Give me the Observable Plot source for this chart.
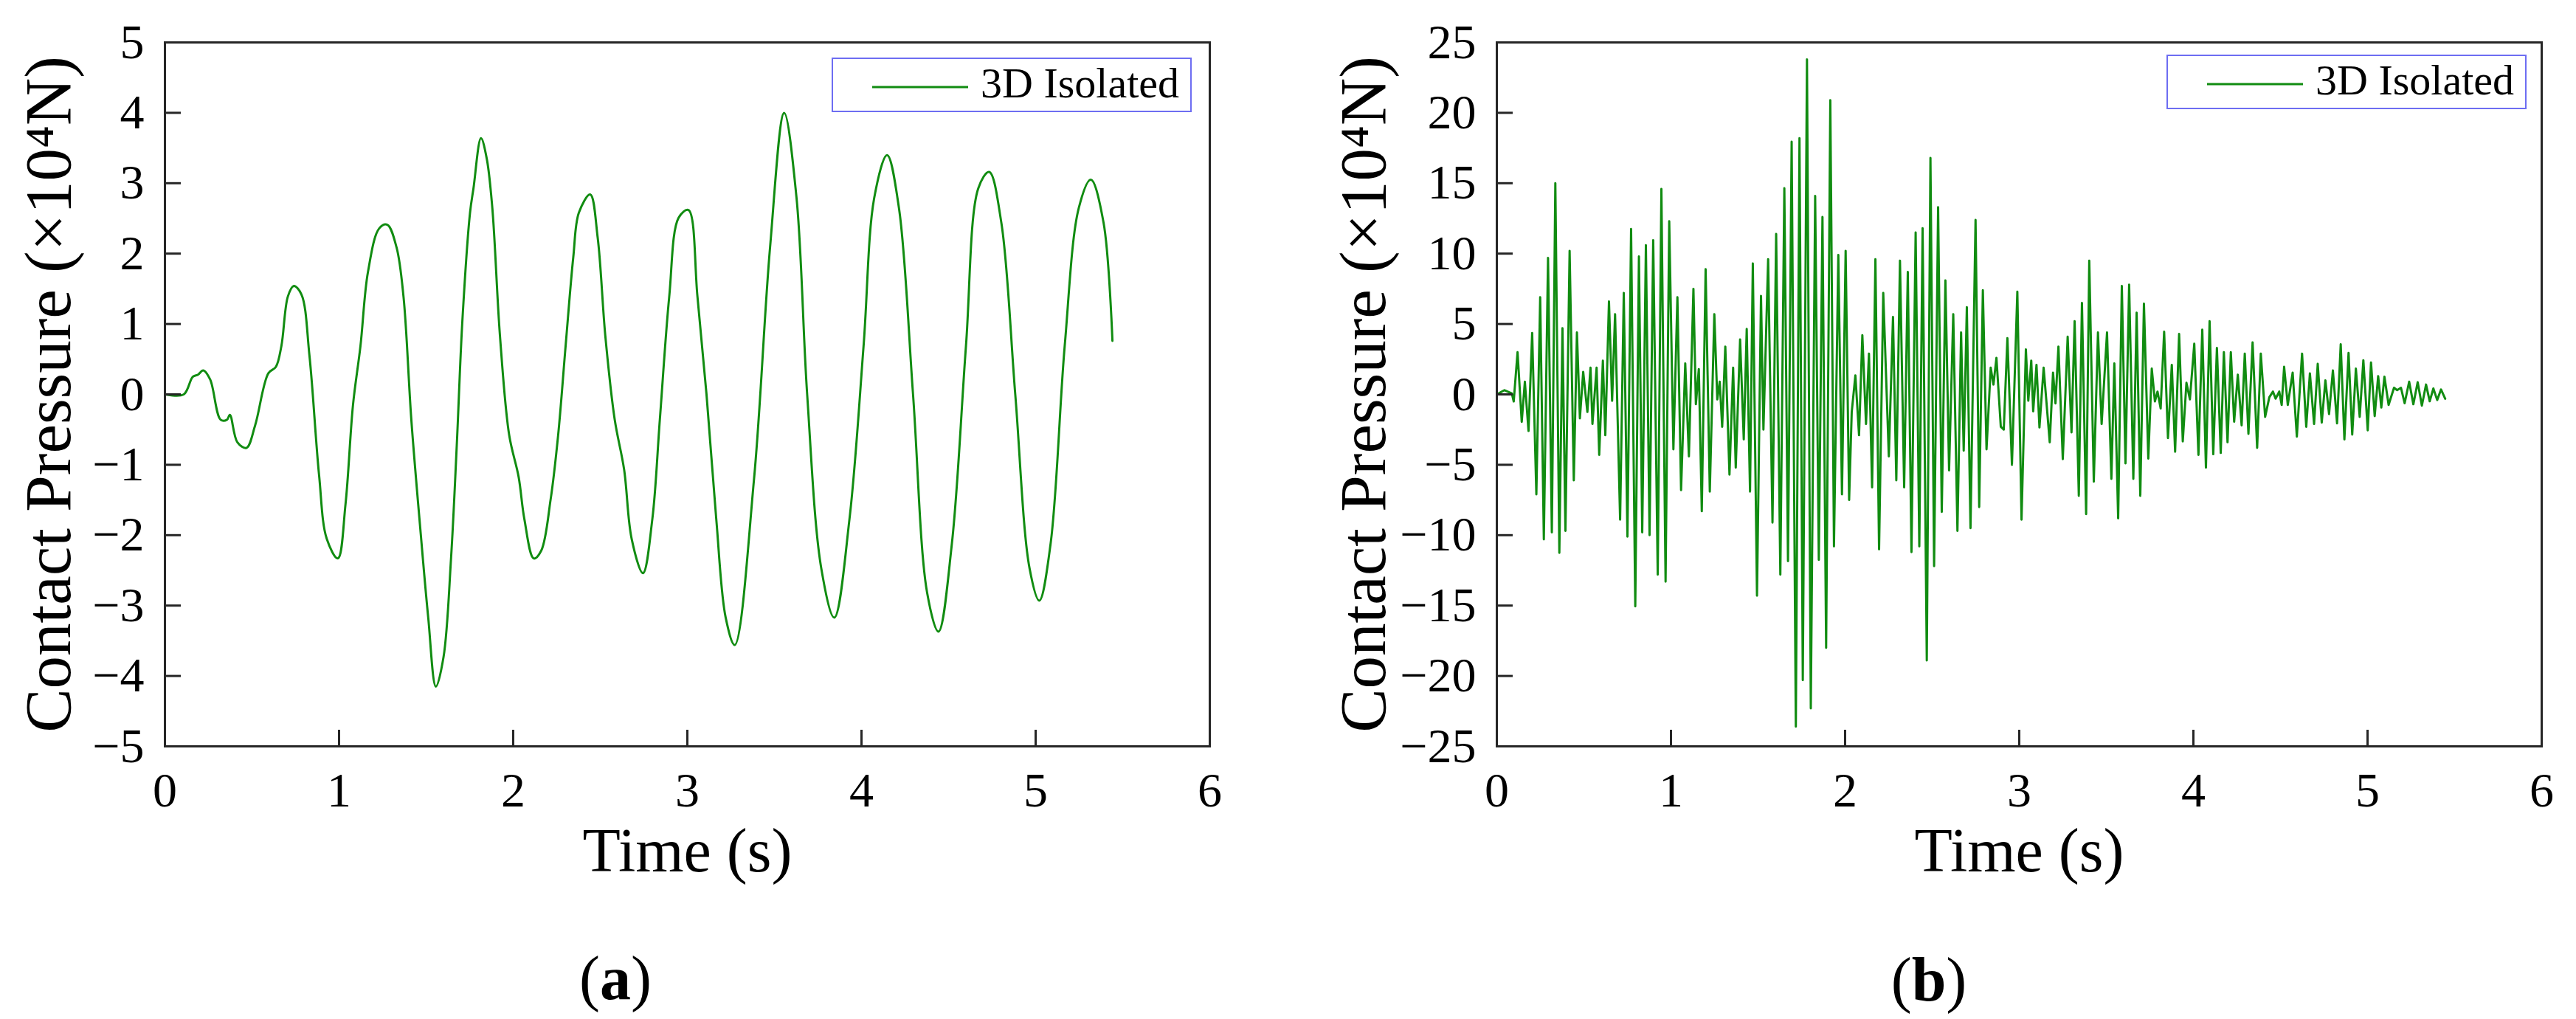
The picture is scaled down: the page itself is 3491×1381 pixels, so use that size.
<!DOCTYPE html>
<html>
<head>
<meta charset="utf-8">
<script src="https://cdn.jsdelivr.net/npm/d3@7"></script>
<script src="https://cdn.jsdelivr.net/npm/@observablehq/plot@0.6"></script>
<style>
html,body{margin:0;padding:0;background:#fff;}
#page{position:relative;width:3491px;height:1381px;overflow:hidden;background:#fff;font-family:"Liberation Serif","Times New Roman",serif;color:#000;}
.panel{position:absolute;top:0;width:1700px;height:1180px;}
.legend{position:absolute;box-sizing:border-box;width:488px;height:74px;border:2px solid #6d6df2;background:#fff;}
.legend svg{position:absolute;left:0;top:0;}
.legend span{position:absolute;left:200px;top:50%;transform:translateY(-54%);font-size:58px;white-space:nowrap;line-height:1;}
.caption{position:absolute;font-size:84px;line-height:1;transform:translate(-50%,-50%);white-space:nowrap;}
</style>
</head>
<body>
<div id="page">
  <div class="panel" id="pa" style="left:0px"></div>
  <div class="panel" id="pb" style="left:1805px"></div>
  <div class="caption" style="left:834px;top:1326px">(<b>a</b>)</div>
  <div class="caption" style="left:2614px;top:1328px">(<b>b</b>)</div>
</div>
<script>
// ---------- data ----------
const xTicks = [0, 1, 2, 3, 4, 5, 6];
const yTicksA = [-5, -4, -3, -2, -1, 0, 1, 2, 3, 4, 5];
const yTicksB = [-25, -20, -15, -10, -5, 0, 5, 10, 15, 20, 25];
const xLabel = "Time (s)";
const yLabel = "Contact Pressure (×10⁴N)";
const seriesName = "3D Isolated";

const timeA = [0,0.108,0.16,0.19,0.22,0.26,0.32,0.356,0.373,0.416,0.468,0.518,0.594,0.637,0.669,0.706,0.74,0.784,0.83,0.885,0.929,0.993,1.037,1.08,1.123,1.166,1.231,1.277,1.33,1.37,1.415,1.469,1.512,1.556,1.6,1.643,1.676,1.708,1.752,1.772,1.815,1.848,1.88,1.924,1.977,2.031,2.064,2.118,2.161,2.215,2.258,2.301,2.345,2.377,2.442,2.485,2.529,2.583,2.637,2.68,2.745,2.799,2.842,2.896,2.95,3.006,3.058,3.11,3.166,3.22,3.272,3.383,3.475,3.556,3.627,3.688,3.769,3.844,3.931,4.012,4.073,4.147,4.215,4.296,4.377,4.442,4.519,4.6,4.671,4.733,4.803,4.883,4.965,5.021,5.086,5.167,5.248,5.317,5.39,5.441];
const pressureA = [0,0,0.25,0.28,0.34,0.21,-0.36,-0.36,-0.29,-0.68,-0.76,-0.44,0.30,0.39,0.69,1.39,1.54,1.42,0.55,-1.14,-2.05,-2.33,-1.56,-0.15,0.69,1.74,2.36,2.41,2.09,1.39,-0.36,-1.98,-3.17,-4.15,-3.73,-2.33,-0.72,1.04,2.58,2.93,3.64,3.35,2.65,0.83,-0.58,-1.17,-1.77,-2.33,-2.22,-1.49,-0.58,0.69,1.95,2.58,2.84,2.23,0.83,-0.36,-1.07,-2.05,-2.54,-1.77,-0.36,1.39,2.51,2.62,1.39,0,-1.77,-3.17,-3.56,-1.2,2.09,4.0,2.79,0,-2.47,-3.17,-1.77,0.69,2.79,3.40,2.65,0,-2.82,-3.37,-2.12,0.69,2.93,3.16,2.44,0,-2.47,-2.93,-2.12,0.69,2.65,3.05,2.44,0.76];

const timeB = [0,0.044,0.086,0.097,0.119,0.143,0.161,0.182,0.203,0.227,0.249,0.27,0.294,0.316,0.336,0.359,0.377,0.394,0.418,0.442,0.46,0.477,0.496,0.52,0.538,0.549,0.573,0.588,0.609,0.623,0.644,0.662,0.679,0.708,0.729,0.75,0.771,0.795,0.816,0.835,0.856,0.877,0.898,0.924,0.945,0.969,0.99,1.014,1.037,1.058,1.082,1.103,1.129,1.143,1.16,1.177,1.199,1.223,1.249,1.266,1.28,1.294,1.312,1.336,1.357,1.372,1.397,1.418,1.435,1.454,1.47,1.494,1.517,1.531,1.558,1.583,1.604,1.628,1.651,1.672,1.693,1.717,1.738,1.757,1.781,1.803,1.828,1.849,1.87,1.891,1.915,1.936,1.961,1.982,2.003,2.023,2.038,2.059,2.08,2.099,2.12,2.137,2.155,2.174,2.195,2.219,2.251,2.275,2.294,2.315,2.339,2.36,2.381,2.405,2.426,2.445,2.469,2.49,2.511,2.534,2.555,2.576,2.597,2.621,2.645,2.666,2.681,2.699,2.72,2.749,2.77,2.791,2.812,2.836,2.852,2.869,2.894,2.911,2.932,2.958,2.989,3.013,3.038,3.052,3.069,3.08,3.099,3.116,3.14,3.175,3.194,3.208,3.225,3.25,3.278,3.3,3.318,3.342,3.36,3.384,3.402,3.428,3.452,3.473,3.504,3.529,3.546,3.568,3.589,3.61,3.631,3.655,3.674,3.695,3.716,3.741,3.761,3.779,3.794,3.812,3.832,3.854,3.876,3.895,3.918,3.939,3.96,3.98,4.005,4.029,4.051,4.072,4.093,4.114,4.135,4.157,4.175,4.196,4.215,4.234,4.255,4.277,4.295,4.316,4.34,4.366,4.387,4.412,4.436,4.457,4.472,4.493,4.507,4.521,4.542,4.57,4.594,4.624,4.648,4.669,4.693,4.714,4.737,4.758,4.779,4.801,4.825,4.846,4.867,4.891,4.912,4.933,4.955,4.976,5.001,5.02,5.041,5.061,5.079,5.097,5.121,5.152,5.17,5.192,5.213,5.239,5.263,5.288,5.312,5.336,5.357,5.378,5.4,5.422,5.446];
const pressureB = [0,0.3,0.07,-0.5,3.0,-1.95,0.9,-2.6,4.36,-7.1,6.9,-10.3,9.7,-9.8,15.0,-11.25,4.7,-9.7,10.2,-6.1,4.4,-1.7,1.6,-1.25,1.9,-2.1,1.9,-4.3,2.4,-2.9,6.6,-0.46,5.7,-8.9,7.2,-10.1,11.75,-15.05,9.8,-9.8,10.6,-10.0,10.96,-12.8,14.6,-13.3,12.3,-3.9,6.9,-6.8,2.2,-4.4,7.5,-0.7,1.8,-8.3,8.9,-6.9,5.7,-0.36,0.9,-2.3,3.4,-5.7,1.9,-5.2,3.9,-3.2,4.65,-6.9,9.3,-14.3,7.0,-2.5,9.6,-9.1,11.4,-12.8,14.65,-11.85,17.95,-23.6,18.2,-20.3,23.8,-22.3,14.1,-11.75,12.6,-18.0,20.9,-10.8,9.9,-7.1,10.2,-7.5,-1.25,1.35,-2.9,4.2,-2.1,2.9,-6.6,9.6,-11.0,7.2,-4.4,5.5,-6.1,9.5,-6.6,8.7,-11.2,11.5,-10.8,11.8,-18.9,16.8,-12.2,13.3,-8.35,8.1,-5.4,5.7,-9.7,4.4,-4.0,6.2,-9.5,12.4,-8.0,7.4,-3.9,1.9,0.7,2.6,-2.3,-2.5,4.0,-5.0,7.3,-8.9,3.2,-0.45,2.4,-1.2,2.1,-2.35,1.9,-3.4,1.55,-0.64,3.4,-4.6,4.1,-2.7,5.2,-7.2,6.5,-8.5,9.5,-6.2,4.4,-2.1,4.4,-6.0,2.2,-8.8,7.7,-4.9,7.8,-6.0,5.8,-7.2,6.45,-4.56,1.83,-0.5,0.2,-1.0,4.45,-3.1,2.1,-4.07,4.3,-3.34,0.82,-0.35,3.6,-4.3,4.6,-5.2,5.2,-4.25,3.3,-4.16,3.0,-3.4,3.0,-1.94,1.4,-2.2,2.9,-2.8,3.7,-3.8,2.9,-1.6,-0.2,0.2,-0.3,0.2,-0.75,1.96,-0.75,1.55,-3.0,2.9,-2.3,1.5,-2.1,2.17,-2.0,1.0,-1.4,1.7,-2.06,3.56,-3.2,2.95,-2.85,1.83,-1.6,2.43,-2.55,2.27,-1.54,1.3,-0.93,1.26,-0.75,0.47,0.3,0.47,-0.63,0.9,-0.7,0.87,-0.8,0.7,-0.49,0.42,-0.4,0.35,-0.31];

// ---------- drawing ----------
const lineColor = "#118c11";
const axisColor = "#262626";
const W = 1700, H = 1180, ML = 223, MT = 57, MR = 61, MB = 169;
const innerW = W - ML - MR, innerH = H - MT - MB;
const tickLen = 22;
const fmt = d => (d < 0 ? "\u2212" + Math.abs(d) : String(d));

function makePanel(times, values, yTicks, curve, yLabelOffset) {
  const data = times.map((t, i) => ({t, v: values[i]}));
  const xMin = xTicks[0], xMax = xTicks[xTicks.length - 1];
  const yMin = yTicks[0], yMax = yTicks[yTicks.length - 1];
  // tick length expressed through each scale's own extent
  const xTickSpan = (xMax - xMin) * tickLen / innerW;
  const yTickSpan = (yMax - yMin) * tickLen / innerH;
  const innerXTicks = xTicks.slice(1, -1);
  const innerYTicks = yTicks.slice(1, -1);
  return Plot.plot({
    width: W,
    height: H,
    marginLeft: ML,
    marginTop: MT,
    marginRight: MR,
    marginBottom: MB,
    style: {fontFamily: "'Liberation Serif','Times New Roman',serif", fontSize: "66px", color: "#000", background: "#fff", overflow: "visible"},
    x: {domain: [xMin, xMax]},
    y: {domain: [yMin, yMax]},
    marks: [
      Plot.line(data, {x: "t", y: "v", stroke: lineColor, strokeWidth: 3, curve}),
      // inward ticks on the bottom and left axes
      Plot.ruleX(innerXTicks, {x: d => d, y1: yMin, y2: yMin + yTickSpan, stroke: axisColor, strokeWidth: 3}),
      Plot.ruleY(innerYTicks, {y: d => d, x1: xMin, x2: xMin + xTickSpan, stroke: axisColor, strokeWidth: 3}),
      Plot.frame({stroke: axisColor, strokeWidth: 3}),
      Plot.axisX({ticks: xTicks, tickSize: 0, tickPadding: 35, tickFormat: fmt, label: null, fill: "#000"}),
      Plot.axisY({ticks: yTicks, tickSize: 0, tickPadding: 28, tickFormat: fmt, label: null, fill: "#000"}),
      Plot.text([xLabel], {frameAnchor: "bottom", textAnchor: "middle", lineAnchor: "top", dy: 110, fontSize: 84, text: d => d, fill: "#000"}),
      Plot.text([yLabel], {frameAnchor: "left", textAnchor: "middle", lineAnchor: "top", rotate: -90, dx: -yLabelOffset, fontSize: 89, text: d => d, fill: "#000"})
    ]
  });
}

function addLegend(container, left, top) {
  const div = document.createElement("div");
  div.className = "legend";
  div.style.left = left + "px";
  div.style.top = top + "px";
  div.innerHTML = `<svg width="488" height="74"><line x1="53" x2="183" y1="38" y2="38" stroke="${lineColor}" stroke-width="3"/></svg><span>${seriesName}</span>`;
  container.appendChild(div);
}

const pa = document.getElementById("pa");
const pb = document.getElementById("pb");
pa.appendChild(makePanel(timeA, pressureA, yTicksA, "catmull-rom", 192));
pb.appendChild(makePanel(timeB, pressureB, yTicksB, "linear", 215));
addLegend(pa, 1127, 78);
addLegend(pb, 1131, 74);
</script>
</body>
</html>
